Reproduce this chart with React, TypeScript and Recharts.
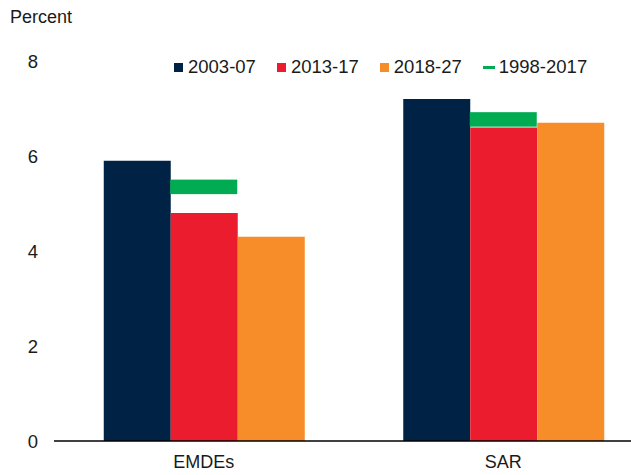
import React from "react";
import {
  ComposedChart,
  Bar,
  Scatter,
  XAxis,
  YAxis,
} from "recharts";

const categories = ["EMDEs", "SAR"];
const avg2003_07 = [5.9, 7.2];
const avg2013_17 = [4.8, 6.6];
const avg2018_27 = [4.3, 6.7];
const avg1998_2017 = [5.35, 6.77];
const yTicks = [0, 2, 4, 6, 8];

const data = categories.map((name, i) => ({
  name,
  a: avg2003_07[i],
  b: avg2013_17[i],
  c: avg2018_27[i],
  d: avg1998_2017[i],
}));

const NAVY = "#002345";
const RED = "#EB1C2D";
const ORANGE = "#F78D28";
const GREEN = "#00AB51";
const TEXT = "#1a1a1a";
const FONT = "'Liberation Sans', Arial, sans-serif";

const legendItems = [
  { label: "2003-07", color: NAVY, line: false },
  { label: "2013-17", color: RED, line: false },
  { label: "2018-27", color: ORANGE, line: false },
  { label: "1998-2017", color: GREEN, line: true },
];

const GreenMark = (props: any) => {
  const { cx, cy } = props;
  if (cx == null || cy == null) return null;
  return <rect x={cx - 33.5} y={cy - 7.25} width={67} height={14.5} fill={GREEN} />;
};

function ChartLegend() {
  return (
    <div
      style={{
        position: "absolute",
        left: 174,
        top: 55,
        display: "flex",
        alignItems: "center",
        fontFamily: FONT,
        fontSize: 18.5,
        color: TEXT,
        whiteSpace: "nowrap",
        lineHeight: "24px",
      }}
    >
      {legendItems.map((it, i) => (
        <div key={`leg-${i}`} style={{ display: "flex", alignItems: "center", marginRight: 21 }}>
          {it.line ? (
            <span style={{ display: "inline-block", width: 12, height: 3, background: it.color, marginRight: 4 }} />
          ) : (
            <span style={{ display: "inline-block", width: 9, height: 9, background: it.color, marginRight: 5 }} />
          )}
          <span>{it.label}</span>
        </div>
      ))}
    </div>
  );
}

export default function App() {
  return (
    <div style={{ position: "absolute", left: 0, top: 0, width: 631, height: 475, background: "#fff", overflow: "hidden" }}>
      {/* the plot runs slightly past the right edge of the frame in the original */}
      <ComposedChart
        width={653}
        height={475}
        data={data}
        margin={{ top: 61, right: 0, bottom: 0, left: 0 }}
        barGap={0}
        barCategoryGap={49.75}
      >
        <XAxis
          dataKey="name"
          height={34}
          tickLine={false}
          axisLine={{ stroke: "#000", strokeWidth: 1.5 }}
          tickMargin={8}
          tick={{ fill: TEXT, fontSize: 18, fontFamily: FONT }}
        />
        <YAxis
          width={54}
          domain={[0, 8]}
          ticks={yTicks}
          tickLine={false}
          axisLine={false}
          tickMargin={10}
          tick={{ fill: TEXT, fontSize: 18.5, fontFamily: FONT }}
        />
        <Bar dataKey="a" name="2003-07" fill={NAVY} isAnimationActive={false} />
        <Bar dataKey="b" name="2013-17" fill={RED} isAnimationActive={false} />
        <Bar dataKey="c" name="2018-27" fill={ORANGE} isAnimationActive={false} />
        <Scatter dataKey="d" name="1998-2017" fill={GREEN} shape={GreenMark} isAnimationActive={false} />
      </ComposedChart>
      <div style={{ position: "absolute", left: 10, top: 7, fontFamily: FONT, fontSize: 18, color: TEXT }}>
        Percent
      </div>
      <ChartLegend />
    </div>
  );
}
